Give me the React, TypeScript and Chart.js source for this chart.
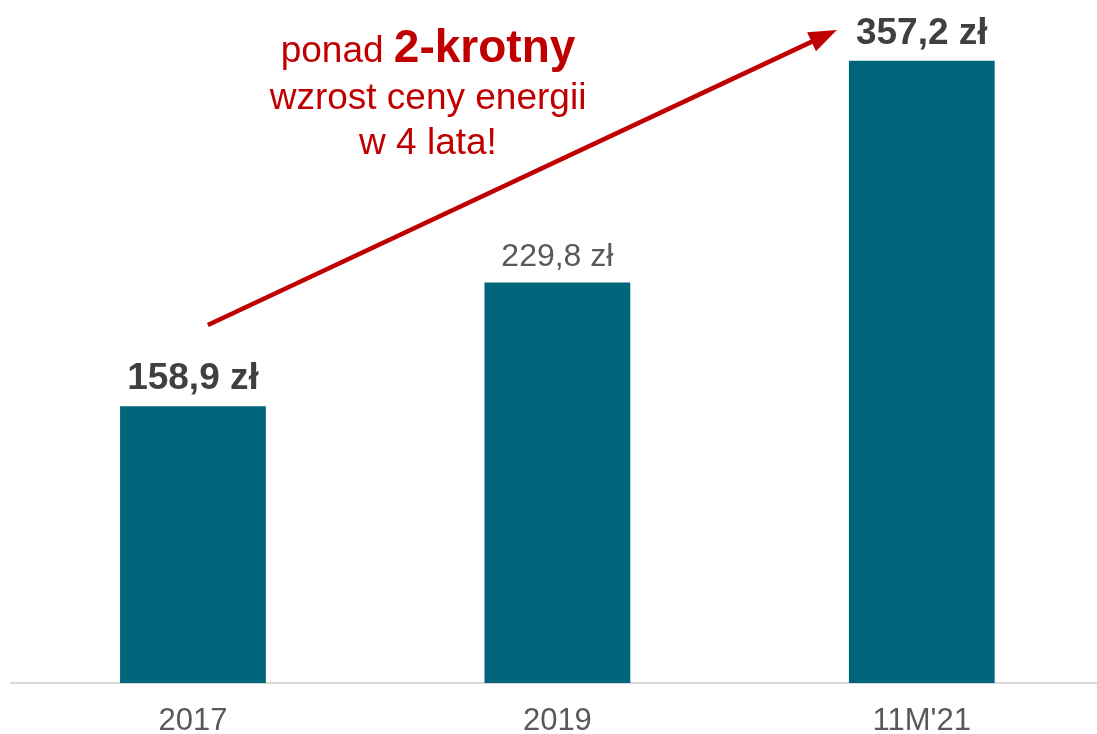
import React, { useEffect, useRef } from "react";
import { Chart, registerables } from "chart.js";

Chart.register(...registerables);

const categories = ["2017", "2019", "11M'21"];
const values = [158.9, 229.8, 357.2];
const valueLabels = ["158,9 zł", "229,8 zł", "357,2 zł"];
const emphasized = [true, false, true];

const annotationLine1Regular = "ponad ";
const annotationLine1Bold = "2-krotny";
const annotationLines = ["wzrost ceny energii", "w 4 lata!"];
// arrow in data space (category index, value)
const arrowStart = { index: 0.041, value: 205.5 };
const arrowEnd = { index: 1.767, value: 374.8 };
const textAnchor = { index: 0.645, value: 356.5 };

const FONT = "'Liberation Sans', Arial, sans-serif";
const RED = "#C00000";

const overlayPlugin = {
  id: "overlay",
  afterDatasetsDraw(chart: any) {
    const ctx = chart.ctx;
    const meta = chart.getDatasetMeta(0);
    const xs = chart.scales.x;
    const ys = chart.scales.y;
    ctx.save();
    ctx.textAlign = "center";
    ctx.textBaseline = "alphabetic";
    meta.data.forEach((bar: any, i: number) => {
      const bold = emphasized[i];
      ctx.font = bold ? `bold 37px ${FONT}` : `32px ${FONT}`;
      ctx.fillStyle = bold ? "#404040" : "#595959";
      ctx.fillText(valueLabels[i], bar.x, bar.y - 17);
    });

    // arrow
    const x1 = xs.getPixelForValue(arrowStart.index);
    const y1 = ys.getPixelForValue(arrowStart.value);
    const x2 = xs.getPixelForValue(arrowEnd.index);
    const y2 = ys.getPixelForValue(arrowEnd.value);
    const dx = x2 - x1;
    const dy = y2 - y1;
    const len = Math.hypot(dx, dy);
    const ux = dx / len;
    const uy = dy / len;
    const headLen = 28;
    const headW = 10.5;
    const bx = x2 - ux * headLen;
    const by = y2 - uy * headLen;
    ctx.strokeStyle = RED;
    ctx.lineWidth = 4.5;
    ctx.lineCap = "butt";
    ctx.beginPath();
    ctx.moveTo(x1, y1);
    ctx.lineTo(bx + ux * 4, by + uy * 4);
    ctx.stroke();
    ctx.fillStyle = RED;
    ctx.beginPath();
    ctx.moveTo(x2, y2);
    ctx.lineTo(bx - uy * headW, by + ux * headW);
    ctx.lineTo(bx + uy * headW, by - ux * headW);
    ctx.closePath();
    ctx.fill();

    // annotation text
    const cx = xs.getPixelForValue(textAnchor.index);
    const baseY = ys.getPixelForValue(textAnchor.value);
    ctx.fillStyle = RED;
    ctx.textAlign = "left";
    ctx.font = `37px ${FONT}`;
    const w1 = ctx.measureText(annotationLine1Regular).width;
    ctx.font = `bold 46px ${FONT}`;
    const w2 = ctx.measureText(annotationLine1Bold).width;
    const startX = cx - (w1 + w2) / 2;
    ctx.font = `37px ${FONT}`;
    ctx.fillText(annotationLine1Regular, startX, baseY);
    ctx.font = `bold 46px ${FONT}`;
    ctx.fillText(annotationLine1Bold, startX + w1, baseY);
    ctx.textAlign = "center";
    ctx.font = `37px ${FONT}`;
    annotationLines.forEach((t, i) => {
      ctx.fillText(t, cx, baseY + 47 + i * 45);
    });
    ctx.restore();
  },
};

export default function App() {
  const ref = useRef<HTMLCanvasElement>(null);
  useEffect(() => {
    if (!ref.current) return;
    const chart = new Chart(ref.current, {
      type: "bar",
      data: {
        labels: categories,
        datasets: [
          {
            data: values,
            backgroundColor: "#00657A",
            borderWidth: 0,
            barPercentage: 0.4,
            categoryPercentage: 1,
          },
        ],
      },
      options: {
        responsive: false,
        animation: false,
        layout: { padding: { left: 10.75, right: 0, top: 0, bottom: 0 } },
        plugins: { legend: { display: false }, tooltip: { enabled: false } },
        scales: {
          x: {
            grid: { display: false, drawTicks: false },
            border: { display: true, color: "#D9D9D9", width: 2 },
            ticks: {
              color: "#595959",
              font: { family: FONT, size: 31 },
              padding: 20,
            },
            afterFit(scale: any) {
              scale.height = 51;
            },
          },
          y: {
            display: false,
            min: 0,
            max: 392,
          },
        },
      },
      plugins: [overlayPlugin],
    });
    return () => chart.destroy();
  }, []);
  return (
    <div
      style={{
        position: "fixed",
        left: 0,
        top: 0,
        width: 1097,
        height: 734,
        overflow: "hidden",
        background: "#fff",
      }}
    >
      <canvas ref={ref} width={1104} height={734} style={{ display: "block" }} />
    </div>
  );
}
